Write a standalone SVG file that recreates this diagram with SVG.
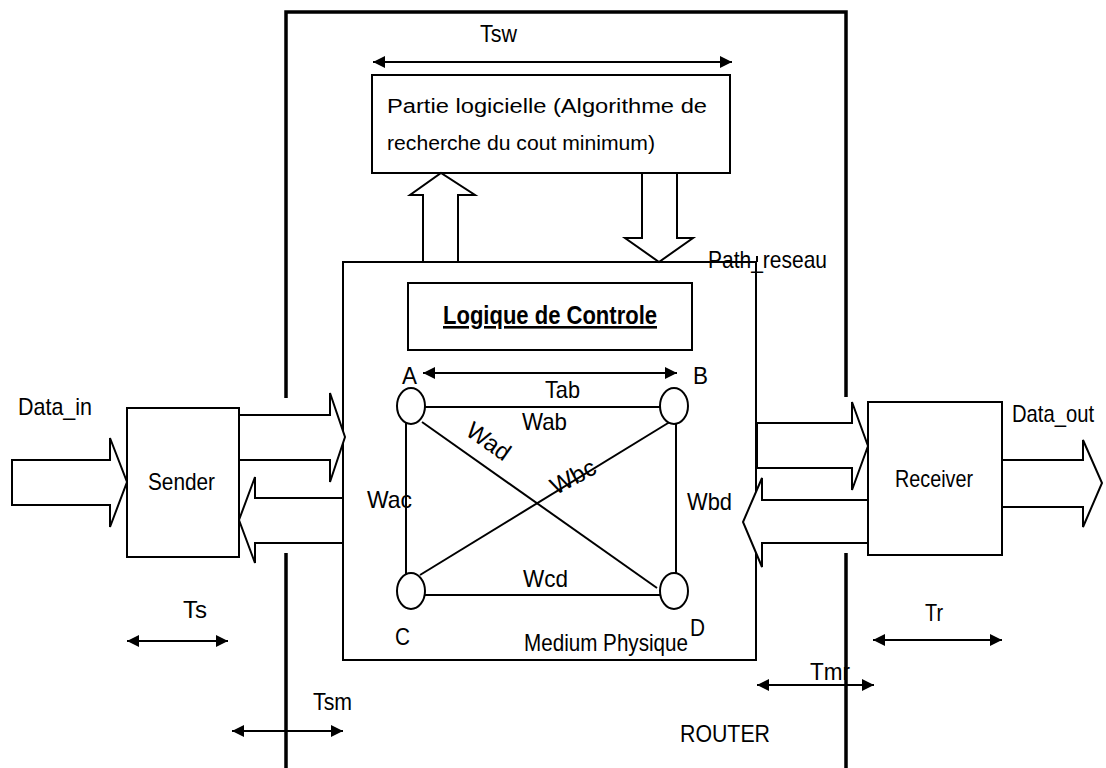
<svg xmlns="http://www.w3.org/2000/svg" width="1106" height="768" viewBox="0 0 1106 768">
<style>
  .t { font-family: "Liberation Sans", Arial, sans-serif; font-size: 24px; fill: #000; }
  .s { font-size: 20px; }
  .b { font-weight: bold; font-size: 26px; text-decoration: underline; }
  .box { fill: #fff; stroke: #000; stroke-width: 2; }
  .thick { fill: none; stroke: #000; stroke-width: 3.5; }
  .ln { fill: none; stroke: #000; stroke-width: 2; }
  .blk { fill: #fff; stroke: #000; stroke-width: 2; stroke-linejoin: miter; }
  .dbl { fill: none; stroke: #000; stroke-width: 2; marker-start: url(#hs); marker-end: url(#he); }
</style>
<defs>
  <marker id="he" markerUnits="userSpaceOnUse" markerWidth="14" markerHeight="14" refX="12" refY="7" orient="auto">
    <path d="M0,1 L12,7 L0,13 Z" fill="#000"/>
  </marker>
  <marker id="hs" markerUnits="userSpaceOnUse" markerWidth="14" markerHeight="14" refX="0" refY="7" orient="auto">
    <path d="M12,1 L0,7 L12,13 Z" fill="#000"/>
  </marker>
</defs>
<rect width="1106" height="768" fill="#fff"/>

<g id="router">
  <path class="thick" d="M286,768 L286,553 M286,398 L286,12 L846,12 L846,397 M846,553 L846,768"/>
  <text class="t" x="680" y="742" textLength="90" lengthAdjust="spacingAndGlyphs">ROUTER</text>
</g>

<g id="medium">
  <rect class="ln" x="343" y="262" width="413" height="398"/>
  <line class="ln" x1="757" y1="256" x2="757" y2="262"/>
  <text class="t" x="524" y="651" textLength="164" lengthAdjust="spacingAndGlyphs">Medium Physique</text>
  <text class="t" x="708" y="268" font-size="22" textLength="119" lengthAdjust="spacingAndGlyphs">Path_reseau</text>
</g>

<g id="partie">
  <rect class="box" x="372" y="75" width="358" height="98"/>
  <text class="t s" x="387" y="113" textLength="320" lengthAdjust="spacingAndGlyphs">Partie logicielle  (Algorithme de</text>
  <text class="t s" x="387" y="150" textLength="268" lengthAdjust="spacingAndGlyphs">recherche du cout minimum)</text>
</g>

<g id="logique">
  <rect class="box" x="408" y="283" width="284" height="67"/>
  <text class="t b" x="443" y="324" textLength="214" lengthAdjust="spacingAndGlyphs">Logique de Controle</text>
</g>

<g id="sender">
  <rect class="box" x="127" y="408" width="112" height="149"/>
  <text class="t" x="148" y="490" font-size="25" textLength="67" lengthAdjust="spacingAndGlyphs">Sender</text>
</g>

<g id="receiver">
  <rect class="box" x="868" y="402" width="134" height="153"/>
  <text class="t" x="895" y="487" textLength="78" lengthAdjust="spacingAndGlyphs">Receiver</text>
</g>

<g id="connectors">
  <polygon class="blk" points="12,460 110,460 110,438 127,482 110,527 110,505 12,505"/>
  <polygon class="blk" points="239,415 330,415 330,393 345,437 330,482 330,460 239,460"/>
  <polygon class="blk" points="343,498 255,498 255,477 239,520 255,563 255,543 343,543"/>
  <polygon class="blk" points="757,423 852,423 852,402 868,446 852,490 852,468 757,468"/>
  <polygon class="blk" points="868,500 762,500 762,478 743,522 762,567 762,543 868,543"/>
  <polygon class="blk" points="1002,460 1083,460 1083,440 1102,483 1083,527 1083,507 1002,507"/>
  <polygon class="blk" points="423,262 423,195 410,195 441,173 475,195 458,195 458,262"/>
  <polygon class="blk" points="642,173 642,238 625,238 659,262 693,238 677,238 677,173"/>

  <line class="ln" x1="425" y1="407" x2="660" y2="407"/>
  <line class="ln" x1="425" y1="595" x2="660" y2="595"/>
  <line class="ln" x1="406" y1="423" x2="406" y2="575"/>
  <line class="ln" x1="676" y1="422" x2="676" y2="574"/>
  <line class="ln" x1="422" y1="422" x2="657" y2="588"/>
  <line class="ln" x1="673" y1="420" x2="420" y2="575"/>

  <line class="dbl" x1="373" y1="62" x2="732" y2="62"/>
  <line class="dbl" x1="423" y1="373" x2="677" y2="373"/>
  <line class="dbl" x1="127" y1="641" x2="228" y2="641"/>
  <line class="dbl" x1="232" y1="731" x2="343" y2="731"/>
  <line class="dbl" x1="873" y1="640" x2="1002" y2="640"/>
  <line class="dbl" x1="757" y1="685" x2="874" y2="685"/>
</g>

<g id="nodeA">
  <ellipse class="box" cx="411" cy="406" rx="14" ry="18"/>
  <text class="t" x="402" y="384" textLength="15" lengthAdjust="spacingAndGlyphs">A</text>
</g>
<g id="nodeB">
  <ellipse class="box" cx="674" cy="406" rx="14" ry="18"/>
  <text class="t" x="693" y="384" textLength="15" lengthAdjust="spacingAndGlyphs">B</text>
</g>
<g id="nodeC">
  <ellipse class="box" cx="411" cy="591" rx="14" ry="18"/>
  <text class="t" x="395" y="645" textLength="15" lengthAdjust="spacingAndGlyphs">C</text>
</g>
<g id="nodeD">
  <ellipse class="box" cx="674" cy="591" rx="14" ry="18"/>
  <text class="t" x="690" y="636" textLength="15" lengthAdjust="spacingAndGlyphs">D</text>
</g>

<g id="labels">
  <text class="t" x="480" y="42" textLength="37" lengthAdjust="spacingAndGlyphs">Tsw</text>
  <text class="t" x="18" y="415" font-size="23" textLength="74" lengthAdjust="spacingAndGlyphs">Data_in</text>
  <text class="t" x="1012" y="422" font-size="23" textLength="82" lengthAdjust="spacingAndGlyphs">Data_out</text>
  <text class="t" x="545" y="398" textLength="35" lengthAdjust="spacingAndGlyphs">Tab</text>
  <text class="t" x="522" y="430" textLength="45" lengthAdjust="spacingAndGlyphs">Wab</text>
  <text class="t" x="367" y="508" textLength="45" lengthAdjust="spacingAndGlyphs">Wac</text>
  <text class="t" x="687" y="510" textLength="45" lengthAdjust="spacingAndGlyphs">Wbd</text>
  <text class="t" x="523" y="587" textLength="45" lengthAdjust="spacingAndGlyphs">Wcd</text>
  <text class="t" text-anchor="middle" transform="translate(484,448) rotate(35)" textLength="48" lengthAdjust="spacingAndGlyphs">Wad</text>
  <text class="t" text-anchor="middle" transform="translate(577,484) rotate(-28)" textLength="48" lengthAdjust="spacingAndGlyphs">Wbc</text>
  <text class="t" x="183" y="618" textLength="24" lengthAdjust="spacingAndGlyphs">Ts</text>
  <text class="t" x="313" y="710" textLength="39" lengthAdjust="spacingAndGlyphs">Tsm</text>
  <text class="t" x="925" y="621" textLength="18" lengthAdjust="spacingAndGlyphs">Tr</text>
  <text class="t" x="810" y="680" textLength="40" lengthAdjust="spacingAndGlyphs">Tmr</text>
</g>
</svg>
